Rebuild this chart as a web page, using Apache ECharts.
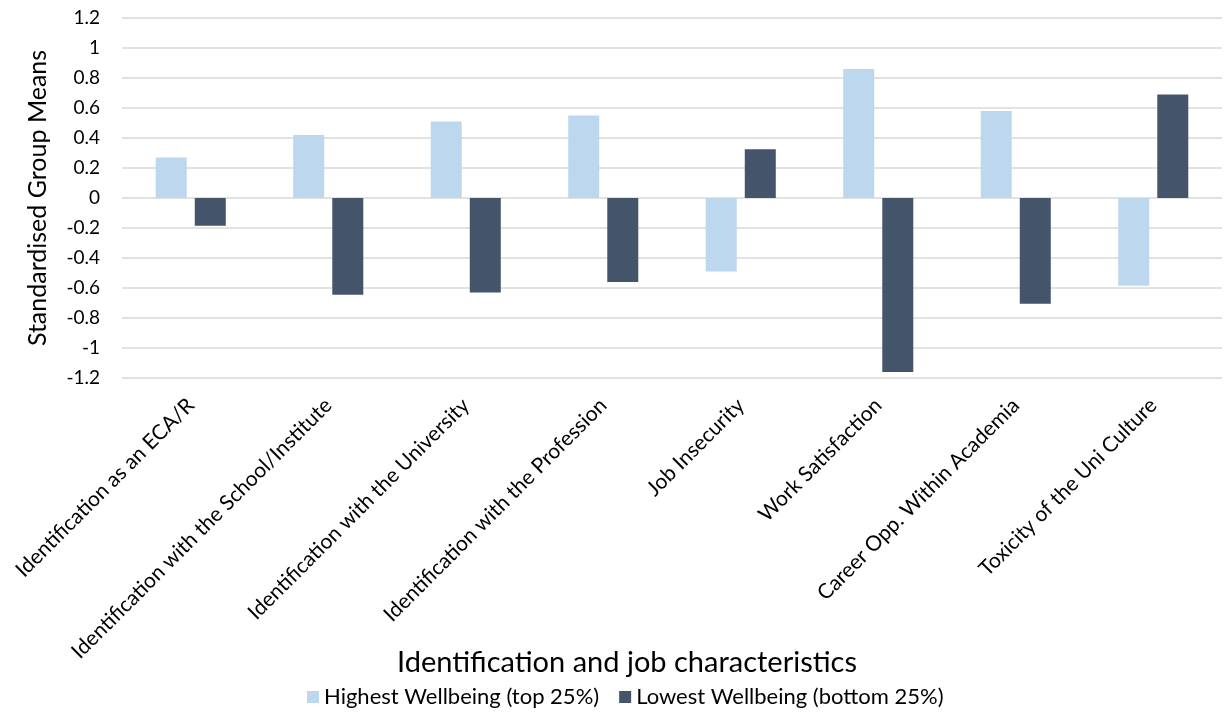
<!DOCTYPE html>
<html><head><meta charset="utf-8">
<script src="https://cdn.jsdelivr.net/npm/echarts@6/dist/echarts.min.js"></script>
<style>html,body{margin:0;padding:0;background:#fff}#c{width:1225px;height:717px}</style>
</head><body><div id="c"></div>
<script>
const categories = ["Identification as an ECA/R","Identification with the School/Institute","Identification with the University","Identification with the Profession","Job Insecurity","Work Satisfaction","Career Opp. Within Academia","Toxicity of the Uni Culture"];
const seriesNames = ["Highest Wellbeing (top 25%)","Lowest Wellbeing (bottom 25%)"];
const highest = [0.27, 0.42, 0.51, 0.55, -0.49, 0.86, 0.58, -0.585];
const lowest = [-0.185, -0.645, -0.63, -0.56, 0.325, -1.16, -0.705, 0.69];
const yTicks = {min:-1.2, max:1.2, interval:0.2};
const FONT = 'Lato';
const chart = echarts.init(document.getElementById('c'));
chart.setOption({
  animation:false,
  textStyle:{fontFamily:FONT},
  title:{text:'Identification and job characteristics', left:392, top:643,
    textStyle:{fontFamily:FONT, fontSize:29, fontWeight:'normal', color:'#000'}},
  legend:{bottom:4, left:302, itemWidth:12, itemHeight:12, itemGap:20, icon:'rect',
    textStyle:{fontFamily:FONT, fontSize:22, color:'#000'}, data:seriesNames},
  grid:{left:122, right:3, top:18, bottom:339, containLabel:false},
  xAxis:{type:'category', data:categories,
    axisLine:{show:false}, axisTick:{show:false},
    axisLabel:{rotate:45, fontSize:21, color:'#000', interval:0, margin:24}},
  yAxis:{type:'value', min:yTicks.min, max:yTicks.max, interval:yTicks.interval,
    name:'Standardised Group Means', nameLocation:'middle', nameGap:72,
    nameTextStyle:{fontSize:25, color:'#000'},
    axisLine:{show:false}, axisTick:{show:false},
    axisLabel:{fontSize:19, color:'#000', margin:22,
      formatter:v=>{const r=Math.round(v*10)/10; return String(r);}},
    splitLine:{lineStyle:{color:'#D9D9D9', width:1.5}}},
  series:[
    {name:seriesNames[0], type:'bar', data:highest, barWidth:31, barGap:'26%',
      itemStyle:{color:'#BDD7EE'}},
    {name:seriesNames[1], type:'bar', data:lowest, barWidth:31, barGap:'26%',
      itemStyle:{color:'#44546A'}}
  ]
});
</script></body></html>
